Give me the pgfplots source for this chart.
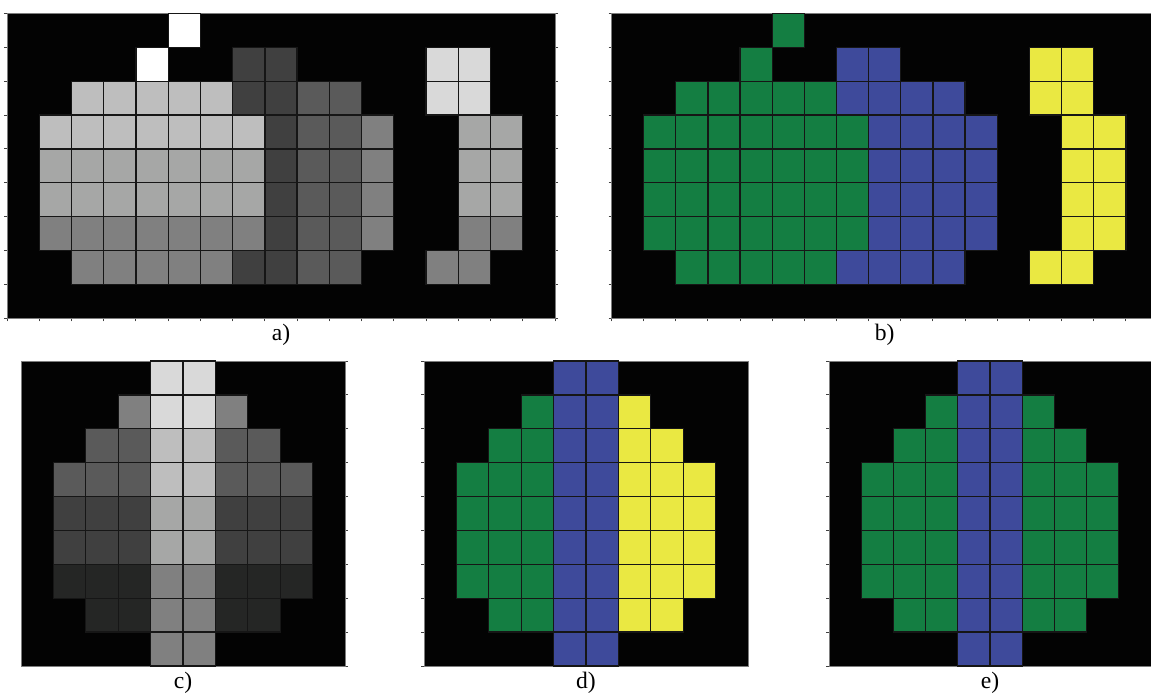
\documentclass[border=0pt]{standalone}
\usepackage{pgfplots}
\pgfplotsset{compat=1.18}
\usepackage{fontspec}
\setmainfont{Liberation Serif}

\definecolor{bgk}{RGB}{3,3,3}
\definecolor{edge}{RGB}{22,22,22}
\definecolor{frame}{RGB}{125,125,125}
\definecolor{gD9}{RGB}{217,217,217}
\definecolor{gBE}{RGB}{190,190,190}
\definecolor{gA6}{RGB}{166,167,166}
\definecolor{g80}{RGB}{128,128,128}
\definecolor{g5A}{RGB}{90,90,90}
\definecolor{g40}{RGB}{64,64,64}
\definecolor{g26}{RGB}{37,38,37}
\definecolor{cgreen}{RGB}{20,126,66}
\definecolor{cblue}{RGB}{62,74,155}
\definecolor{cyellow}{RGB}{234,232,66}

% one square cell per coordinate; \cms = half cell width, \cys = height/width ratio
\newcommand{\cells}[2]{%
  \addplot[only marks, mark=square*, mark size=\cms,
    mark options={draw=edge, line width=0.65pt, fill=#1, yscale=\cys}]
    coordinates {#2};}

\pgfplotsset{
  pixgrid/.style={
    scale only axis, anchor=south west,
    axis background/.style={fill=bgk},
    axis line style={draw=frame, line width=0.5pt},
    tick align=outside, major tick length=1.5pt,
    tick style={draw=black!75, line width=0.5pt},
    xticklabels={}, yticklabels={},
    ymin=0.5, ymax=9.5, ytick={0.5,1.5,...,9.5},
    clip=false,
    x label style={at={(axis description cs:0.5,0)}, anchor=center,
      yshift=-8.5pt, font=\fontsize{11.8}{13}\selectfont},
  },
}

\begin{document}
\begin{tikzpicture}

% ---------------- a) grey-level image
\def\cms{8.06pt}\def\cys{1.0506}
\begin{axis}[pixgrid, at={(3.5pt,189.35pt)}, width=274pt, height=152.4pt,
  xmin=0.5, xmax=17.5, xtick={0.5,1.5,...,17.5},
  xtick pos=left, ytick pos=both, xlabel={a)}]
\cells{white}{(6,9)(5,8)}
\cells{gD9}{(14,8)(15,8)(14,7)(15,7)}
\cells{gBE}{(3,7)(4,7)(5,7)(6,7)(7,7)
  (2,6)(3,6)(4,6)(5,6)(6,6)(7,6)(8,6)}
\cells{gA6}{(2,5)(3,5)(4,5)(5,5)(6,5)(7,5)(8,5)
  (2,4)(3,4)(4,4)(5,4)(6,4)(7,4)(8,4)
  (15,6)(16,6)(15,5)(16,5)(15,4)(16,4)}
\cells{g80}{(2,3)(3,3)(4,3)(5,3)(6,3)(7,3)(8,3)
  (3,2)(4,2)(5,2)(6,2)(7,2)
  (12,6)(12,5)(12,4)(12,3)
  (15,3)(16,3)(14,2)(15,2)}
\cells{g5A}{(10,7)(11,7)(10,6)(11,6)(10,5)(11,5)
  (10,4)(11,4)(10,3)(11,3)(10,2)(11,2)}
\cells{g40}{(8,8)(9,8)(8,7)(9,7)(9,6)(9,5)(9,4)(9,3)(8,2)(9,2)}
\end{axis}

% ---------------- b) segmented image
\def\cms{8.04pt}\def\cys{1.0535}
\begin{axis}[pixgrid, at={(305.75pt,189.35pt)}, width=273.25pt, height=152.4pt,
  xmin=0.5, xmax=17.5, xtick={0.5,1.5,...,17.5},
  xtick pos=left, ytick pos=both, xlabel={b)}]
\cells{cgreen}{(6,9)(5,8)
  (3,7)(4,7)(5,7)(6,7)(7,7)
  (2,6)(3,6)(4,6)(5,6)(6,6)(7,6)(8,6)
  (2,5)(3,5)(4,5)(5,5)(6,5)(7,5)(8,5)
  (2,4)(3,4)(4,4)(5,4)(6,4)(7,4)(8,4)
  (2,3)(3,3)(4,3)(5,3)(6,3)(7,3)(8,3)
  (3,2)(4,2)(5,2)(6,2)(7,2)}
\cells{cblue}{(8,8)(9,8)
  (8,7)(9,7)(10,7)(11,7)
  (9,6)(10,6)(11,6)(12,6)
  (9,5)(10,5)(11,5)(12,5)
  (9,4)(10,4)(11,4)(12,4)
  (9,3)(10,3)(11,3)(12,3)
  (8,2)(9,2)(10,2)(11,2)}
\cells{cyellow}{(14,8)(15,8)(14,7)(15,7)
  (15,6)(16,6)(15,5)(16,5)(15,4)(16,4)(15,3)(16,3)
  (14,2)(15,2)}
\end{axis}

% ---------------- c) grey-level image
\def\cms{8.1pt}\def\cys{1.046}
\begin{axis}[pixgrid, at={(10.5pt,15.5pt)}, width=162pt, height=152.5pt,
  xmin=0.5, xmax=10.5, xtick=\empty, ytick pos=right, xlabel={c)}]
\cells{gD9}{(5,9)(6,9)(5,8)(6,8)}
\cells{gBE}{(5,7)(6,7)(5,6)(6,6)}
\cells{gA6}{(5,5)(6,5)(5,4)(6,4)}
\cells{g80}{(4,8)(7,8)(5,3)(6,3)(5,2)(6,2)(5,1)(6,1)}
\cells{g5A}{(3,7)(4,7)(7,7)(8,7)
  (2,6)(3,6)(4,6)(7,6)(8,6)(9,6)}
\cells{g40}{(2,5)(3,5)(4,5)(7,5)(8,5)(9,5)
  (2,4)(3,4)(4,4)(7,4)(8,4)(9,4)}
\cells{g26}{(2,3)(3,3)(4,3)(7,3)(8,3)(9,3)
  (3,2)(4,2)(7,2)(8,2)}
\end{axis}

% ---------------- d) three classes
\def\cms{8.1pt}\def\cys{1.046}
\begin{axis}[pixgrid, at={(212pt,15.5pt)}, width=162pt, height=152.5pt,
  xmin=0.5, xmax=10.5, xtick=\empty, ytick pos=left, xlabel={d)}]
\cells{cgreen}{(4,8)(3,7)(4,7)
  (2,6)(3,6)(4,6)(2,5)(3,5)(4,5)(2,4)(3,4)(4,4)(2,3)(3,3)(4,3)
  (3,2)(4,2)}
\cells{cblue}{(5,9)(6,9)(5,8)(6,8)(5,7)(6,7)(5,6)(6,6)(5,5)(6,5)
  (5,4)(6,4)(5,3)(6,3)(5,2)(6,2)(5,1)(6,1)}
\cells{cyellow}{(7,8)(7,7)(8,7)
  (7,6)(8,6)(9,6)(7,5)(8,5)(9,5)(7,4)(8,4)(9,4)(7,3)(8,3)(9,3)
  (7,2)(8,2)}
\end{axis}

% ---------------- e) two classes
\def\cms{8.05pt}\def\cys{1.0525}
\begin{axis}[pixgrid, at={(414.5pt,15.5pt)}, width=161pt, height=152.5pt,
  xmin=0.5, xmax=10.5, xtick=\empty, ytick pos=left, xlabel={e)}]
\cells{cgreen}{(4,8)(3,7)(4,7)
  (2,6)(3,6)(4,6)(2,5)(3,5)(4,5)(2,4)(3,4)(4,4)(2,3)(3,3)(4,3)
  (3,2)(4,2)
  (7,8)(7,7)(8,7)
  (7,6)(8,6)(9,6)(7,5)(8,5)(9,5)(7,4)(8,4)(9,4)(7,3)(8,3)(9,3)
  (7,2)(8,2)}
\cells{cblue}{(5,9)(6,9)(5,8)(6,8)(5,7)(6,7)(5,6)(6,6)(5,5)(6,5)
  (5,4)(6,4)(5,3)(6,3)(5,2)(6,2)(5,1)(6,1)}
\end{axis}

\pgfresetboundingbox
\path[use as bounding box] (0,0) rectangle (575.5pt,348.5pt);
\end{tikzpicture}
\end{document}
